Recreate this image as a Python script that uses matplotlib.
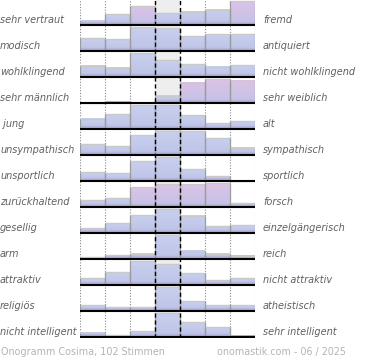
import numpy as np
import matplotlib
matplotlib.use("Agg")
import matplotlib.pyplot as plt
from matplotlib.colors import to_rgb
import matplotlib.transforms as mtransforms

left_labels = ["sehr vertraut", "modisch", "wohlklingend", "sehr männlich", " jung",
               "unsympathisch", "unsportlich", "zurückhaltend", "gesellig", "arm",
               "attraktiv", "religiös", "nicht intelligent"]
right_labels = ["fremd", "antiquiert", "nicht wohlklingend", "sehr weiblich", "alt",
                "sympathisch", "sportlich", "forsch", "einzelgängerisch", "reich",
                "nicht attraktiv", "atheistisch", "sehr intelligent"]

values = [
    [4.3, 10.7, 18.7, 11.7, 13.3, 15.3, 24.0],
    [12.7, 11.7, 24.0, 22.7, 14.7, 17.0, 17.0],
    [11.3, 9.3, 24.0, 16.7, 12.7, 10.3, 11.7],
    [0.3, 1.5, 0.3, 7.3, 20.3, 24.0, 22.3],
    [10.3, 15.0, 24.0, 24.0, 13.7, 6.0, 7.7],
    [10.7, 8.7, 20.0, 24.0, 24.0, 16.7, 7.3],
    [9.0, 8.0, 19.6, 24.0, 12.0, 4.7, 0.5],
    [7.0, 9.0, 20.0, 22.7, 22.7, 24.0, 4.0],
    [4.7, 9.7, 17.7, 24.0, 17.3, 6.7, 7.7],
    [2.0, 3.7, 5.3, 24.0, 8.3, 5.3, 3.3],
    [6.7, 12.7, 24.0, 20.7, 12.0, 4.7, 6.7],
    [5.7, 4.0, 4.0, 24.0, 10.0, 5.7, 5.7],
    [4.3, 2.0, 6.0, 24.0, 15.0, 10.0, 1.3],
]
# bars drawn in the pink tone
pink_bars = {0: [2, 6], 3: [4, 5, 6], 7: [2, 3, 4, 5]}

footer_left = "Onogramm Cosima, 102 Stimmen"
footer_right = "onomastik.com - 06 / 2025"

W, H = 370, 360
fig = plt.figure(figsize=(W / 100, H / 100), dpi=100)
ax = fig.add_axes([80 / W, 1 - 338 / H, 175 / W, 338 / H])
ncols = 7
nrows = len(values)
row_px = 26.0
maxh = 24.0 / row_px
base_off = 25.0 / row_px

blue_top = np.array(to_rgb("#c8cfee"))
blue_bot = np.array(to_rgb("#bcc3e7"))
pink_top = np.array(to_rgb("#dcc2e6"))
pink_bot = np.array(to_rgb("#c2c3e7"))
band = np.array(to_rgb("#a9a2d4"))

# middle column background
ax.axvspan(3, 4, color="#eeeeee", zorder=0, lw=0)

for i, row in enumerate(values):
    vals = np.array(row, dtype=float)
    heights = vals / vals.max() * maxh
    base = i + base_off
    for j, h in enumerate(heights):
        if h <= 0:
            continue
        hp = h * row_px
        n = 60
        t = np.linspace(hp, 0, n)  # px from bottom, top row first
        if j in pink_bars.get(i, []):
            ct, cb = pink_top, pink_bot
        else:
            ct, cb = blue_top, blue_bot
        frac = (t / max(hp, 1e-6))[:, None]
        body = cb + (ct - cb) * frac
        w = np.clip((t - 0.5) / 3.0, 0, 1)[:, None]
        col = band + (body - band) * w
        img = col[:, None, :]
        ax.imshow(img, extent=(j, j + 1, base, base - h), aspect="auto",
                  interpolation="bilinear", origin="upper", zorder=2)
        ax.hlines(base - h, j, j + 1, color="#c9c9c9", lw=1.0, zorder=3)
        ax.vlines([j, j + 1], base - h, base, color="#9c9c9c", lw=0.9, zorder=3)
    ax.hlines(base, 0, ncols, color="black", lw=1.5, zorder=5)

# grid lines
for x in [0, 1, 2, 5, 6, 7]:
    ax.axvline(x, color="#888888", lw=0.8, ls=(0, (1, 1.5)), zorder=1)
for x in [3, 4]:
    ax.axvline(x, color="black", lw=1.0, ls=(0, (3, 2)), zorder=4)

ax.set_xlim(0, ncols)
ax.set_ylim(nrows, 0)
ax.axis("off")

trans = mtransforms.blended_transform_factory(fig.transFigure, ax.transData)
for i in range(nrows):
    yc = i + (25 - 5) / row_px
    ax.text(0.0, yc, left_labels[i], transform=trans, ha="left", va="center",
            fontsize=7.0, style="italic", color="#606060")
    ax.text(263 / W, yc, right_labels[i], transform=trans, ha="left", va="center",
            fontsize=7.0, style="italic", color="#606060")

fig.text(1 / W, 1 - 352 / H, footer_left, ha="left", va="center",
         fontsize=6.9, color="#b4b4b4")
fig.text(346 / W, 1 - 352 / H, footer_right, ha="right", va="center",
         fontsize=6.9, color="#b4b4b4")

fig.savefig("out.png", dpi=100)
